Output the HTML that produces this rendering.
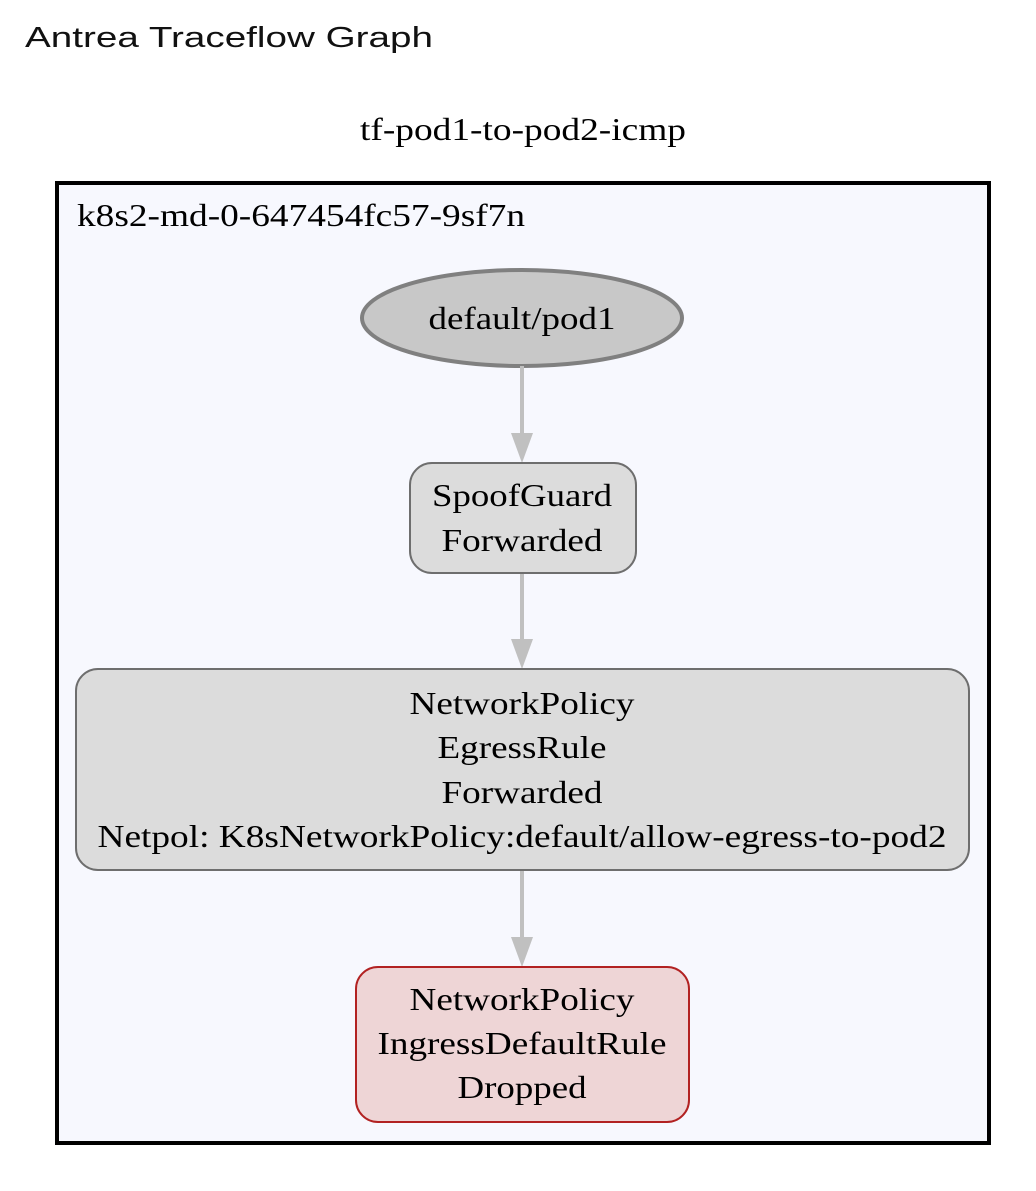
<!DOCTYPE html>
<html><head><style>
body{margin:0;background:#fff;width:1036px;height:1186px;overflow:hidden}
</style></head><body>
<svg width="1036" height="1186" xmlns="http://www.w3.org/2000/svg">
<text x="25" y="47" font-family="Liberation Sans, sans-serif" font-size="29" fill="#111" textLength="408" lengthAdjust="spacingAndGlyphs">Antrea Traceflow Graph</text>
<g font-family="Liberation Serif, serif" font-size="32" fill="#000" text-anchor="middle" lengthAdjust="spacingAndGlyphs">
<text x="523" y="140" textLength="326" lengthAdjust="spacingAndGlyphs">tf-pod1-to-pod2-icmp</text>
<rect x="57" y="183" width="932" height="960" fill="#f7f8fe" stroke="#000" stroke-width="4"/>
<text x="77" y="226" text-anchor="start" textLength="448" lengthAdjust="spacingAndGlyphs">k8s2-md-0-647454fc57-9sf7n</text>
<ellipse cx="522" cy="318" rx="160" ry="48" fill="#c8c8c8" stroke="#808080" stroke-width="4"/>
<text x="522" y="329" textLength="187" lengthAdjust="spacingAndGlyphs">default/pod1</text>
<g stroke="#c0c0c0" stroke-width="4" fill="#c0c0c0">
<line x1="522" y1="366" x2="522" y2="436"/><polygon points="511,433 533,433 522,463" stroke="none"/>
<line x1="522" y1="573" x2="522" y2="642"/><polygon points="511,639 533,639 522,669" stroke="none"/>
<line x1="522" y1="870" x2="522" y2="940"/><polygon points="511,937 533,937 522,967" stroke="none"/>
</g>
<rect x="410" y="463" width="226" height="110" rx="22" fill="#dcdcdc" stroke="#6e6e6e" stroke-width="2"/>
<text x="522" y="506" textLength="180" lengthAdjust="spacingAndGlyphs">SpoofGuard</text>
<text x="522" y="551" textLength="161" lengthAdjust="spacingAndGlyphs">Forwarded</text>
<rect x="76" y="669" width="893" height="201" rx="22" fill="#dcdcdc" stroke="#6e6e6e" stroke-width="2"/>
<text x="522" y="714" textLength="225" lengthAdjust="spacingAndGlyphs">NetworkPolicy</text>
<text x="522" y="758" textLength="169" lengthAdjust="spacingAndGlyphs">EgressRule</text>
<text x="522" y="803" textLength="161" lengthAdjust="spacingAndGlyphs">Forwarded</text>
<text x="522" y="847" textLength="849" lengthAdjust="spacingAndGlyphs">Netpol: K8sNetworkPolicy:default/allow-egress-to-pod2</text>
<rect x="356" y="967" width="333" height="155" rx="22" fill="#eed5d6" stroke="#b22222" stroke-width="2"/>
<text x="522" y="1010" textLength="225" lengthAdjust="spacingAndGlyphs">NetworkPolicy</text>
<text x="522" y="1054" textLength="289" lengthAdjust="spacingAndGlyphs">IngressDefaultRule</text>
<text x="522" y="1098" textLength="129" lengthAdjust="spacingAndGlyphs">Dropped</text>
</g>
</svg>
</body></html>
